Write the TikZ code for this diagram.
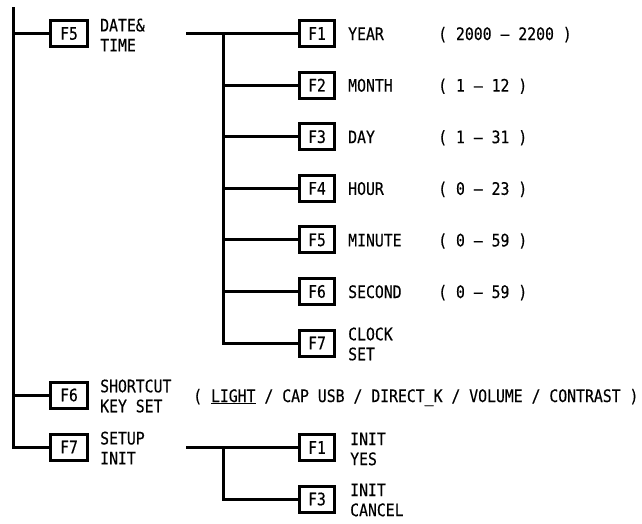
\documentclass[tikz,border=0pt]{standalone}
\usepackage{fontspec}
\newfontfamily\gfont[FakeStretch=0.86,FakeBold=0.3]{DejaVu Sans Mono}
\newcommand{\gsz}{\gfont\fontsize{17.2}{20}\selectfont}
\tikzset{
  conn/.style={line width=3pt},
  mainbox/.style={draw, line width=3pt, minimum width=37pt, minimum height=26pt, inner sep=0pt, font=\gsz},
  subbox/.style={draw, line width=3pt, minimum width=35pt, minimum height=26pt, inner sep=0pt, font=\gsz},
  lbl/.style={inner sep=0pt, align=left, font=\gsz, anchor=west},
  txt/.style={inner sep=0pt, font=\gsz, anchor=base west},
}
\begin{document}
\begin{tikzpicture}[x=1pt,y=-1pt]
\useasboundingbox[fill=white] (0,0) rectangle (642,523);

% main level
\coordinate (top) at (13,7);
\node[mainbox] (m5) at (69,33.5) {F5};
\node[mainbox] (m6) at (69,395) {F6};
\node[mainbox] (m7) at (69,447) {F7};
\node[lbl] (l5) at (100,35) {DATE\&\\TIME};
\node[lbl] (l6) at (100,396) {SHORTCUT\\KEY SET};
\node[lbl] (l7) at (100,448) {SETUP\\INIT};

\draw[conn] (top) |- (m7.west);
\draw[conn] (top |- m5.west) -- (m5.west);
\draw[conn] (top |- m6.west) -- (m6.west);

% DATE & TIME sub items
\foreach \i/\k/\name/\range in {0/1/YEAR/{( 2000 – 2200 )},1/2/MONTH/{( 1 – 12 )},2/3/DAY/{( 1 – 31 )},3/4/HOUR/{( 0 – 23 )},4/5/MINUTE/{( 0 – 59 )},5/6/SECOND/{( 0 – 59 )}}{
  \node[subbox] (s\k) at (317,33.5+51.6*\i) {F\k};
  \node[txt] (n\k) at (348,33.5+51.6*\i+6.5) {\name};
  \node[txt] (r\k) at (438,33.5+51.6*\i+6.5) {\range};
}
\node[subbox] (s7) at (317,343) {F7};
\node[lbl] (n7) at (348,344) {CLOCK\\SET};

\coordinate (b5) at (186,33.5);
\coordinate (j5) at (223,33.5);
\draw[conn] (b5) -- (s1.west);
\draw[conn] (j5) |- (s7.west);
\foreach \k in {2,3,4,5,6}{
  \draw[conn] (j5 |- s\k.west) -- (s\k.west);
}

% SHORTCUT options
\node[txt] (opt) at (193,402) {( \underline{LIGHT} / CAP USB / DIRECT\_K / VOLUME / CONTRAST )};

% SETUP INIT sub items
\node[subbox] (t1) at (317,447.5) {F1};
\node[subbox] (t3) at (317,499) {F3};
\node[lbl] (u1) at (350,449) {INIT\\YES};
\node[lbl] (u3) at (350,500) {INIT\\CANCEL};
\coordinate (b7) at (186,447.5);
\coordinate (j7) at (223,447.5);
\draw[conn] (b7) -- (t1.west);
\draw[conn] (j7) |- (t3.west);
\end{tikzpicture}
\end{document}
